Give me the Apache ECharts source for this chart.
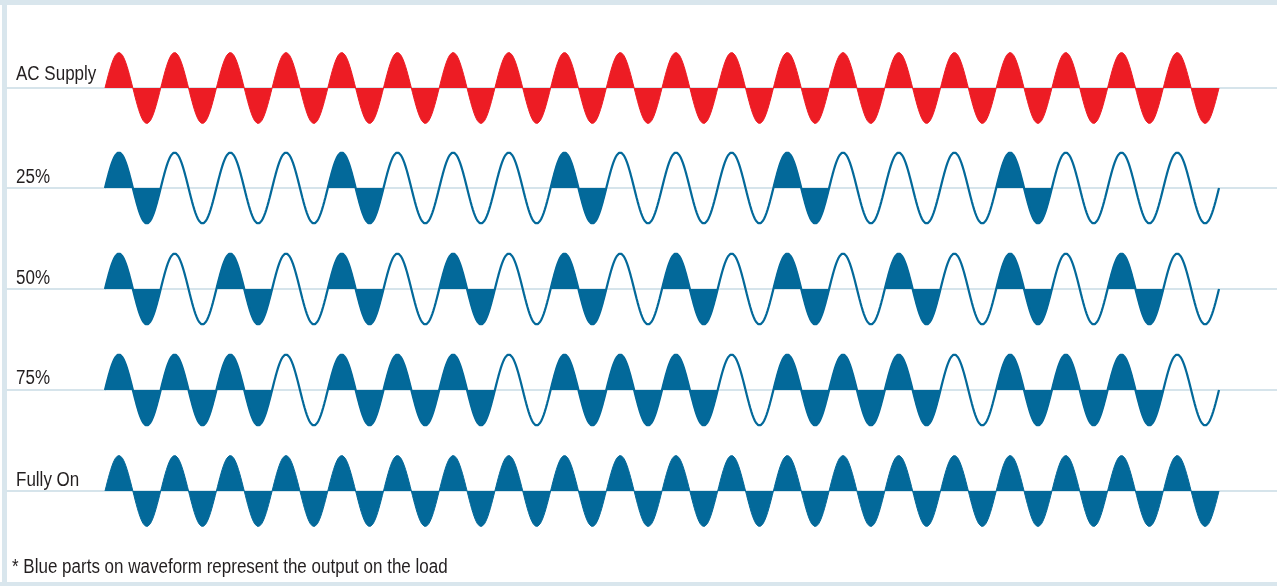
<!DOCTYPE html>
<html>
<head>
<meta charset="utf-8">
<script src="https://cdn.jsdelivr.net/npm/echarts@6/dist/echarts.min.js"></script>
<style>
html,body{margin:0;padding:0;background:#fff;}
#chart{width:1277px;height:586px;}
</style>
</head>
<body>
<div id="chart"></div>
<script>
// ---- data ----
const rowLabels = ['AC Supply', '25%', '50%', '75%', 'Fully On'];
const cycleIndex = [0,1,2,3,4,5,6,7,8,9,10,11,12,13,14,15,16,17,18,19];
// 1 = cycle delivered to load (filled), 0 = cycle blocked (outline only)
const fillAC   = [1,1,1,1,1,1,1,1,1,1,1,1,1,1,1,1,1,1,1,1];
const fill25   = [1,0,0,0,1,0,0,0,1,0,0,0,1,0,0,0,1,0,0,0];
const fill50   = [1,0,1,0,1,0,1,0,1,0,1,0,1,0,1,0,1,0,1,0];
const fill75   = [1,1,1,0,1,1,1,0,1,1,1,0,1,1,1,0,1,1,1,0];
const fillFull = [1,1,1,1,1,1,1,1,1,1,1,1,1,1,1,1,1,1,1,1];
const showOutline = [false, true, true, true, false];
const footnote = '* Blue parts on waveform represent the output on the load';

// ---- layout / style ----
const fills = [fillAC, fill25, fill50, fill75, fillFull];
const rowColors = ['#ED1C24', '#03699A', '#03699A', '#03699A', '#03699A'];
const baseY = [88, 188, 289, 390, 491];
const labelBaseline = [81, 183.5, 284.5, 384.5, 486.5];
const ampPx = 35.5;
const yPad = 1.12;
const samplesPerCycle = 48;
const xMin = -98 / 55.7, xMax = (1277 - 105) / 55.7;
const FONT = '"Liberation Sans",Arial,sans-serif';
const FS = 20, SX = 0.85;

function wave(c, i) { const t = c + i / samplesPerCycle; return [t, Math.sin(2 * Math.PI * t)]; }

const grids = [], xAxes = [], yAxes = [], series = [], graphics = [];
fills.forEach((fl, r) => {
  grids.push({ left: 7, right: 0, top: baseY[r] - ampPx * yPad, height: 2 * ampPx * yPad });
  xAxes.push({ gridIndex: r, type: 'value', min: xMin, max: xMax,
    axisLine: { show: true, onZero: true, lineStyle: { color: '#D6E4EB', width: 2 } },
    axisTick: { show: false }, axisLabel: { show: false }, splitLine: { show: false } });
  yAxes.push({ gridIndex: r, type: 'value', min: -yPad, max: yPad, show: false,
    splitLine: { show: false } });
  // filled cycles
  const fd = [];
  cycleIndex.forEach(c => {
    if (fl[c]) {
      for (let i = 0; i <= samplesPerCycle; i++) fd.push(wave(c, i));
    } else {
      fd.push([c + 0.5, '-']);
    }
  });
  series.push({ type: 'line', xAxisIndex: r, yAxisIndex: r, data: fd, symbol: 'none',
    connectNulls: false, clip: false, silent: true,
    lineStyle: { color: rowColors[r], width: 1 },
    areaStyle: { color: rowColors[r], opacity: 1, origin: 0 }, z: 3 });
  if (showOutline[r]) {
    const od = [];
    cycleIndex.forEach(c => { for (let i = (c === 0 ? 0 : 1); i <= samplesPerCycle; i++) od.push(wave(c, i)); });
    series.push({ type: 'line', xAxisIndex: r, yAxisIndex: r, data: od, symbol: 'none',
      clip: false, silent: true, lineStyle: { color: rowColors[r], width: 2.2 }, z: 4 });
  }
  graphics.push({ type: 'text', x: 16, y: labelBaseline[r] - 0.31 * FS, scaleX: SX,
    style: { x: 0, y: 0, text: rowLabels[r], font: FS + 'px ' + FONT, fill: '#231F20',
      align: 'left', verticalAlign: 'middle' } });
});

graphics.push({ type: 'text', x: 12, y: 574 - 0.31 * FS, scaleX: SX,
  style: { x: 0, y: 0, text: footnote, font: FS + 'px ' + FONT, fill: '#231F20',
    align: 'left', verticalAlign: 'middle' } });
// frame
graphics.push({ type: 'rect', shape: { x: 0, y: 0, width: 1277, height: 5 }, style: { fill: '#D9E6ED' }, z: -1 });
graphics.push({ type: 'rect', shape: { x: 2, y: 0, width: 5, height: 586 }, style: { fill: '#D9E6ED' }, z: -1 });
graphics.push({ type: 'rect', shape: { x: 0, y: 582, width: 1277, height: 4 }, style: { fill: '#D9E6ED' }, z: -1 });

const chart = echarts.init(document.getElementById('chart'), null, { renderer: 'canvas' });
chart.setOption({
  animation: false,
  backgroundColor: '#ffffff',
  grid: grids, xAxis: xAxes, yAxis: yAxes, series: series, graphic: graphics
});
</script>
</body>
</html>
